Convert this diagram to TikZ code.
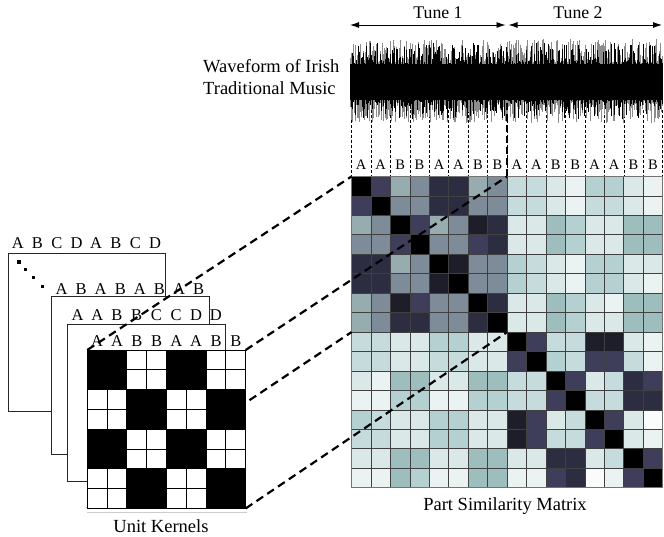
\documentclass[tikz,border=0pt]{standalone}
\usepackage{fontspec}
\setmainfont{Liberation Serif}
\usetikzlibrary{arrows.meta}
\definecolor{cK}{RGB}{0,0,0}
\definecolor{cV}{RGB}{30,30,42}
\definecolor{cD}{RGB}{45,45,65}
\definecolor{cP}{RGB}{62,62,90}
\definecolor{cG}{RGB}{125,140,152}
\definecolor{cC}{RGB}{150,172,175}
\definecolor{cM}{RGB}{158,190,190}
\definecolor{cN}{RGB}{180,208,208}
\definecolor{cL}{RGB}{198,220,220}
\definecolor{cE}{RGB}{218,232,232}
\definecolor{cW}{RGB}{234,242,242}
\definecolor{cX}{RGB}{250,252,252}
\begin{document}
\begin{tikzpicture}[x=1pt,y=-1pt,
  sheet/.style={draw=black!85, line width=0.9pt, fill=white},
  conn/.style={line width=2.2pt, dash pattern=on 8pt off 5pt},
  vdash/.style={line width=0.6pt, dash pattern=on 3pt off 2pt},
  lab/.style={font=\fontsize{16.5}{18}\selectfont, inner sep=0pt, anchor=base},
  mlab/.style={font=\fontsize{14.5}{16}\selectfont, inner sep=0pt, anchor=base},
  captext/.style={font=\fontsize{18.5}{22}\selectfont, inner sep=0pt, anchor=base},
  tunetext/.style={font=\fontsize{17.8}{21}\selectfont, inner sep=0pt, anchor=base},
  tunearrow/.style={line width=0.9pt, {Latex[length=9pt,width=6pt]}-{Latex[length=9pt,width=6pt]}},
]
\useasboundingbox (0,0) rectangle (664,537);

% ---------- coordinates
\coordinate (mTL) at (351.5,176.5);
\coordinate (mTM) at (507.1,176.5);
\coordinate (mLM) at (351.5,332.1);
\coordinate (mC)  at (507.1,332.1);
\coordinate (mBR) at (662.7,487.7);
\coordinate (kTL) at (87.3,350);
\coordinate (kTR) at (245.7,350);
\coordinate (kBL) at (87.3,508.4);
\coordinate (kBR) at (245.7,508.4);
\coordinate (wmid) at (507.1,103);
\coordinate (t1a) at (350,25);
\coordinate (t1b) at (505.5,25);
\coordinate (t2a) at (508.5,25);
\coordinate (t2b) at (662,25);

% ---------- tune arrows and labels
\draw[tunearrow] (t1a) -- (t1b);
\draw[tunearrow] (t2a) -- (t2b);
\node[tunetext] (tune1) at (438,18.3) {Tune 1};
\node[tunetext] (tune2) at (578,18.3) {Tune 2};

% ---------- vertical thin dashed lines
\foreach \i in {0,...,16}{
  \draw[vdash] (351.5+19.45*\i,110) -- (351.5+19.45*\i,176.5);
}

% ---------- waveform
\pgfmathsetseed{12}
\foreach \i in {0,...,389}{
  \pgfmathsetmacro\xx{350.8+\i*0.8}
  \pgfmathsetmacro\ua{19+24*rnd^1.6}
  \pgfmathsetmacro\ub{19+22*rnd^1.6}
  \draw[black!45, line width=0.9pt] (\xx,82-\ua) -- (\xx,82+\ub);
}
\foreach \i in {0,...,389}{
  \pgfmathsetmacro\xx{350.8+\i*0.8}
  \pgfmathsetmacro\ua{17+22*rnd^2.6}
  \pgfmathsetmacro\ub{17+20*rnd^2.6}
  \draw[black, line width=0.8pt] (\xx,82-\ua) -- (\xx,82+\ub);
}
\fill[black] (350.5,64) rectangle (662,100);
\node[captext, anchor=base west] (wave1) at (203,72.7) {Waveform of Irish};
\node[captext, anchor=base west] (wave2) at (203,94.3) {Traditional Music};
\draw[line width=2.4pt, dash pattern=on 7pt off 4pt] (wmid) -- (mTM);

% ---------- matrix letters
\foreach \t [count=\i from 0] in {A,A,B,B,A,A,B,B,A,A,B,B,A,A,B,B}{
  \node[mlab] (ml\i) at (361.2+19.45*\i,169.3) {\t};
}

% ---------- similarity matrix
\foreach \row [count=\r from 0] in {
 {K,P,C,G,D,D,C,G,L,L,E,W,N,N,E,W},
 {P,K,G,G,D,D,G,G,L,L,E,W,L,L,E,W},
 {C,G,K,P,C,G,V,D,E,E,M,N,E,E,M,M},
 {G,G,P,K,G,G,P,D,E,E,M,N,E,E,M,M},
 {D,D,C,G,K,V,G,G,N,L,E,W,N,N,E,E},
 {D,D,G,G,V,K,G,G,N,L,E,W,N,N,E,W},
 {C,G,V,P,G,G,K,D,E,E,M,N,E,W,M,M},
 {C,G,D,D,G,G,D,K,E,E,M,N,E,E,M,M},
 {L,L,E,E,N,N,E,E,K,P,L,L,V,V,E,W},
 {L,L,E,E,L,L,E,E,P,K,N,L,P,P,L,W},
 {E,W,M,M,E,E,M,M,L,L,K,P,E,L,D,P},
 {W,W,N,N,W,W,N,N,L,L,P,K,L,L,D,D},
 {N,L,E,E,N,N,E,E,V,P,E,L,K,P,E,X},
 {L,L,E,E,N,N,E,E,V,P,L,L,P,K,E,W},
 {E,E,M,M,E,E,M,M,E,E,D,D,E,L,K,P},
 {W,W,M,N,W,W,M,M,W,W,P,D,X,W,P,K}}{
  \foreach \v [count=\c from 0] in \row {
    \filldraw[fill=c\v, draw=black!75, line width=0.7pt]
      (351.5+19.45*\c,176.5+19.45*\r) rectangle ++(19.45,19.45);
  }
}
\draw[black!55, line width=1.2pt] (mTL) rectangle (mBR);
\node[captext] (psm) at (505,510.7) {Part Similarity Matrix};

% ---------- back sheets
\draw[sheet] (8,253.3) rectangle (165,411.7);
\foreach \t [count=\i from 0] in {A,B,C,D,A,B,C,D}{
  \node[lab] (s1l\i) at (17.8+19.6*\i,249) {\t};
}
\foreach \p in {(19,262),(25.7,269.5),(33.3,277.7),(42.7,286.7)}{
  \fill \p ++(-1.6,-1.6) rectangle ++(3.2,3.2);
}
\draw[sheet] (51.7,296.7) rectangle (209,454);
\foreach \t [count=\i from 0] in {A,B,A,B,A,B,A,B}{
  \node[lab] (s2l\i) at (61.5+19.6*\i,295) {\t};
}
\draw[sheet] (67.7,324) rectangle (225.7,481.7);
\foreach \t [count=\i from 0] in {A,A,B,B,C,C,D,D}{
  \node[lab] (s3l\i) at (77.5+19.75*\i,320) {\t};
}

% ---------- connectors
\draw[conn] (kTL) -- (mTL);
\draw[conn] (kTR) -- (mTM);
\draw[conn] (kBL) -- (mLM);
\draw[conn] (kBR) -- (mC);

% ---------- unit kernel
\draw[black!20, line width=1pt] (87.3,512) -- (247,512);
\fill[white] (kTL) rectangle (kBR);
\foreach \i in {1,...,7}{
  \draw[line width=0.9pt] (87.3+19.8*\i,350) -- (87.3+19.8*\i,508.4);
  \draw[line width=0.9pt] (87.3,350+19.8*\i) -- (245.7,350+19.8*\i);
}
\foreach \br in {0,1,2,3}{
  \foreach \bc in {0,1,2,3}{
    \pgfmathtruncatemacro\kpar{mod(\br+\bc,2)}
    \ifnum\kpar=0
      \fill[black] (87.3+39.6*\bc,350+39.6*\br) rectangle ++(39.6,39.6);
    \fi
  }
}
\draw[line width=0.9pt] (kTL) rectangle (kBR);
\foreach \t [count=\i from 0] in {A,A,B,B,A,A,B,B}{
  \node[lab] (kl\i) at (97.2+19.8*\i,346.7) {\t};
}
\node[captext] (uk) at (161,532.7) {Unit Kernels};
\end{tikzpicture}
\end{document}
